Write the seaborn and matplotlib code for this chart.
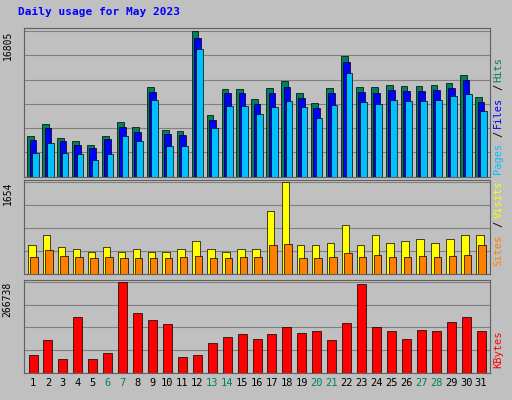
import matplotlib
matplotlib.use('Agg')
import matplotlib.pyplot as plt
import seaborn as sns
import numpy as np

days = list(range(1, 32))
weekend = [6, 7, 13, 14, 20, 21, 27, 28]
hits = [4700, 6100, 4500, 4100, 3700, 4700, 6300, 5700, 10400, 5400, 5300, 16805, 7100, 10100, 10100,
        9000, 10200, 11000, 9700, 8500, 10200, 13900, 10400, 10300, 10600, 10500, 10500, 10600, 10800, 11700, 9200]
files = [4200, 5600, 4100, 3700, 3300, 4300, 5700, 5200, 9800, 4900, 4800, 16000, 6600, 9600, 9600,
         8400, 9600, 10300, 9100, 7900, 9600, 13200, 9800, 9700, 10000, 9900, 9900, 10000, 10200, 11100, 8600]
pages = [2700, 3900, 2700, 2600, 1900, 2600, 4700, 4100, 8900, 3600, 3500, 14700, 5600, 8200, 8200,
         7200, 8000, 8700, 8000, 6800, 8300, 11900, 8600, 8400, 8900, 8700, 8700, 8800, 9300, 9500, 7600]
visits = [520, 700, 480, 440, 400, 480, 400, 440, 400, 400, 440, 590, 440, 400, 440,
          440, 1130, 1654, 520, 520, 550, 880, 520, 700, 550, 590, 630, 550, 630, 700, 700]
sites = [300, 430, 330, 300, 290, 300, 290, 290, 290, 290, 300, 330, 290, 290, 300,
         300, 520, 530, 290, 290, 300, 380, 300, 340, 300, 310, 320, 310, 320, 340, 520]
kbytes = [52000, 95000, 41000, 165000, 41000, 58000, 266738, 174000, 154000, 142000, 46000, 52000, 87000, 104000, 113000,
          99000, 113000, 133000, 116000, 122000, 96000, 145000, 261000, 133000, 122000, 99000, 125000, 122000, 148000, 165000, 122000]

sns.set_style('white')
plt.rcParams['font.family'] = ['DejaVu Sans Mono', 'DejaVu Sans']

bg = '#C0C0C0'
fig = plt.figure(figsize=(5.12, 4.0), dpi=100, facecolor=bg)
fig.text(0.035, 0.962, 'Daily usage for May 2023', color='#0000FF', fontsize=8, fontweight='bold')

x = np.array(days)


def panel(rect, ndiv, top, label):
    ax = fig.add_axes(rect)
    ax.set_facecolor(bg)
    ax.set_xlim(0.4, 31.6)
    ax.set_ylim(0, top * 1.02)
    ax.set_yticks(np.linspace(0, top, ndiv + 1)[1:])
    ax.yaxis.grid(True, color='#808080', lw=0.8)
    ax.set_axisbelow(True)
    ax.set_yticklabels([])
    ax.tick_params(length=0)
    ax.set_xticks([])
    for s in ax.spines.values():
        s.set_color('#606060')
    ax.text(-0.035, 0.98, label, transform=ax.transAxes, rotation=90, ha='center', va='top',
            fontsize=7, color='black')
    return ax


ax1 = panel([0.047, 0.558, 0.91, 0.372], 6, 16805, '16805')
ax1.bar(x - 0.15, hits, width=0.45, color='#00805C', edgecolor='black', lw=0.5)
ax1.bar(x, files, width=0.45, color='#0000FF', edgecolor='black', lw=0.5)
ax1.bar(x + 0.15, pages, width=0.45, color='#00C0FF', edgecolor='black', lw=0.5)
for txt, col, y in [('Pages', '#00C0FF', 0.02), ('/', 'black', 0.27), ('Files', '#0000FF', 0.33),
                    ('/', 'black', 0.58), ('Hits', '#00805C', 0.64)]:
    ax1.text(1.018, y, txt, transform=ax1.transAxes, rotation=90, ha='center', va='bottom',
             fontsize=7.5, color=col)

ax2 = panel([0.047, 0.315, 0.91, 0.235], 4, 1654, '1654')
ax2.bar(x - 0.08, visits, width=0.5, color='#FFFF00', edgecolor='black', lw=0.5)
ax2.bar(x + 0.08, sites, width=0.5, color='#FF8000', edgecolor='black', lw=0.5)
for txt, col, y in [('Sites', '#FF8000', 0.08), ('/', 'black', 0.5), ('Visits', '#FFFF00', 0.6)]:
    ax2.text(1.018, y, txt, transform=ax2.transAxes, rotation=90, ha='center', va='bottom',
             fontsize=7.5, color=col)

ax3 = panel([0.047, 0.068, 0.91, 0.232], 4, 266738, '266738')
ax3.bar(x, kbytes, width=0.6, color='#FF0000', edgecolor='black', lw=0.5)
ax3.text(1.018, 0.05, 'KBytes', transform=ax3.transAxes, rotation=90, ha='center', va='bottom',
         fontsize=7.5, color='#FF0000')
ax3.set_xticks(x)
ax3.set_xticklabels([str(d) for d in days], fontsize=7.5)
for lbl, d in zip(ax3.get_xticklabels(), days):
    lbl.set_color('#00805C' if d in weekend else 'black')

fig.savefig('out.png', dpi=100, facecolor=bg)
